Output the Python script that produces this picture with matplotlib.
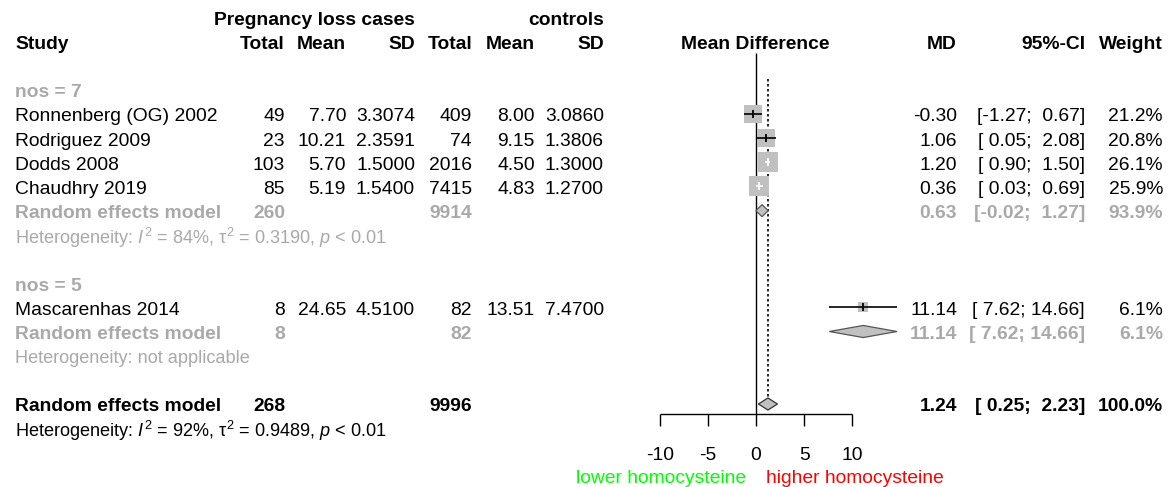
import numpy as np
import matplotlib
matplotlib.use("Agg")
import matplotlib.pyplot as plt
from matplotlib.patches import Polygon

plt.rcParams["font.family"] = "Liberation Sans"
plt.rcParams["mathtext.fontset"] = "custom"
plt.rcParams["mathtext.rm"] = "Liberation Sans"
plt.rcParams["mathtext.it"] = "Liberation Sans:italic"

# study level data
studies = ["Ronnenberg (OG) 2002", "Rodriguez 2009", "Dodds 2008", "Chaudhry 2019", "Mascarenhas 2014"]
study_group = [0, 0, 0, 0, 1]
n_case = [49, 23, 103, 85, 8]
mean_case = [7.70, 10.21, 5.70, 5.19, 24.65]
sd_case = [3.3074, 2.3591, 1.5000, 1.5400, 4.5100]
n_ctrl = [409, 74, 2016, 7415, 82]
mean_ctrl = [8.00, 9.15, 4.50, 4.83, 13.51]
sd_ctrl = [3.0860, 1.3806, 1.3000, 1.2700, 7.4700]
md = [-0.30, 1.06, 1.20, 0.36, 11.14]
ci_lo = [-1.27, 0.05, 0.90, 0.03, 7.62]
ci_hi = [0.67, 2.08, 1.50, 0.69, 14.66]
weight = [21.2, 20.8, 26.1, 25.9, 6.1]

# subgroup summaries
sub_labels = ["nos = 7", "nos = 5"]
sub_n_case = [260, 8]
sub_n_ctrl = [9914, 82]
sub_md = [0.63, 11.14]
sub_lo = [-0.02, 7.62]
sub_hi = [1.27, 14.66]
sub_weight = [93.9, 6.1]
sub_het = [r"Heterogeneity: $I^2$ = 84%, τ$^2$ = 0.3190, $p$ < 0.01",
           "Heterogeneity: not applicable"]

# overall random effects
tot_n_case = 268
tot_n_ctrl = 9996
tot_md = 1.24
tot_lo = 0.25
tot_hi = 2.23
tot_weight = 100.0
tot_het = r"Heterogeneity: $I^2$ = 92%, τ$^2$ = 0.9489, $p$ < 0.01"

axis_ticks = [-10, -5, 0, 5, 10]
label_left = "lower homocysteine"
label_right = "higher homocysteine"

GRAY = "#a9a9a9"
BOX = "#c0c0c0"
FS = 13.9
FS_SMALL = 13.1

W, H = 1169, 487
ROW0, ROWH = 17.3, 24.17          # pixel y of row 0 and row height
PX_ZERO, PX_UNIT = 756.0, 9.62    # pixel x of MD = 0 and pixels per MD unit
TXT_DY = 0.12                     # nudge text down onto the row centre

fig = plt.figure(figsize=(W / 100, H / 100), dpi=100)
ylim = ((H - ROW0) / ROWH, -ROW0 / ROWH)

ax_t = fig.add_axes([0, 0, 1, 1])
ax_t.set_xlim(0, W)
ax_t.set_ylim(*ylim)
ax_t.axis("off")

ax_f = fig.add_axes([0, 0, 1, 1], sharey=ax_t)
ax_f.set_xlim(-PX_ZERO / PX_UNIT, (W - PX_ZERO) / PX_UNIT)
ax_f.axis("off")
ax_f.patch.set_alpha(0)

# column right edges in pixels
X_STUDY = 15
X_NC, X_MC, X_SC = 285, 346, 415
X_NT, X_MT, X_ST = 472, 535, 604
X_MD, X_CI, X_W = 957, 1085, 1163


def txt(x, r, s, ha="right", color="black", bold=False, size=FS):
    ax_t.text(x, r + TXT_DY, s, ha=ha, va="center", color=color, fontsize=size,
              fontweight="bold" if bold else "normal")


def fmt_ci(lo, hi):
    return f"[{lo:5.2f}; {hi:5.2f}]"


def diamond(m, lo, hi, r, face, edge):
    h = 0.25
    ax_f.add_patch(Polygon([(lo, r), (m, r - h), (hi, r), (m, r + h)], closed=True,
                           facecolor=face, edgecolor=edge, lw=0.9, zorder=4))


# headers
txt(X_SC, 0, "Pregnancy loss cases", bold=True)
txt(X_ST, 0, "controls", bold=True)
txt(X_STUDY, 1, "Study", ha="left", bold=True)
for x, s in [(X_NC, "Total"), (X_MC, "Mean"), (X_SC, "SD"), (X_NT, "Total"),
             (X_MT, "Mean"), (X_ST, "SD"), (X_MD, "MD"), (X_CI, "95%-CI"), (X_W, "Weight")]:
    txt(x, 1, s, bold=True)
txt(PX_ZERO - 1, 1, "Mean Difference", ha="center", bold=True)

# reference lines
ax_f.vlines(0, 1.48, 16.41, color="black", lw=1.0, zorder=1)
ax_f.vlines(tot_md, 2.55, 15.7, color="black", lw=1.2, linestyles=(0, (1.5, 1.5)), zorder=1)

row = 3
for g in range(len(sub_labels)):
    txt(X_STUDY, row, sub_labels[g], ha="left", color=GRAY, bold=True)
    row += 1
    for i in [k for k, sg in enumerate(study_group) if sg == g]:
        txt(X_STUDY, row, studies[i], ha="left")
        txt(X_NC, row, f"{n_case[i]}")
        txt(X_MC, row, f"{mean_case[i]:.2f}")
        txt(X_SC, row, f"{sd_case[i]:.4f}")
        txt(X_NT, row, f"{n_ctrl[i]}")
        txt(X_MT, row, f"{mean_ctrl[i]:.2f}")
        txt(X_ST, row, f"{sd_ctrl[i]:.4f}")
        txt(X_MD, row, f"{md[i]:.2f}")
        txt(X_CI, row, fmt_ci(ci_lo[i], ci_hi[i]))
        txt(X_W, row, f"{weight[i]:.1f}%")

        side_px = 3.915 * np.sqrt(weight[i])
        ax_f.scatter([md[i]], [row], marker="s", s=(side_px * 0.72) ** 2,
                     color=BOX, linewidths=0, zorder=2)
        inside = (ci_hi[i] - ci_lo[i]) * PX_UNIT < side_px
        lc = "white" if inside else "black"
        ax_f.hlines(row, ci_lo[i], ci_hi[i], color=lc, lw=1.2, zorder=3)
        ax_f.scatter([md[i]], [row], marker="|", s=30, color=lc, linewidths=1.3, zorder=3)
        row += 1

    txt(X_STUDY, row, "Random effects model", ha="left", color=GRAY, bold=True)
    txt(X_NC, row, f"{sub_n_case[g]}", color=GRAY, bold=True)
    txt(X_NT, row, f"{sub_n_ctrl[g]}", color=GRAY, bold=True)
    txt(X_MD, row, f"{sub_md[g]:.2f}", color=GRAY, bold=True)
    txt(X_CI, row, fmt_ci(sub_lo[g], sub_hi[g]), color=GRAY, bold=True)
    txt(X_W, row, f"{sub_weight[g]:.1f}%", color=GRAY, bold=True)
    diamond(sub_md[g], sub_lo[g], sub_hi[g], row, BOX, "#555555")
    row += 1
    txt(X_STUDY, row, sub_het[g], ha="left", color=GRAY, size=FS_SMALL)
    row += 2

# overall pooled estimate
row = 16
txt(X_STUDY, row, "Random effects model", ha="left", bold=True)
txt(X_NC, row, f"{tot_n_case}", bold=True)
txt(X_NT, row, f"{tot_n_ctrl}", bold=True)
txt(X_MD, row, f"{tot_md:.2f}", bold=True)
txt(X_CI, row, fmt_ci(tot_lo, tot_hi), bold=True)
txt(X_W, row, f"{tot_weight:.1f}%", bold=True)
diamond(tot_md, tot_lo, tot_hi, row, BOX, "#333333")
txt(X_STUDY, row + 1, tot_het, ha="left", size=FS_SMALL)

# x axis of the forest panel
axis_r = 16.41
ax_f.hlines(axis_r, axis_ticks[0], axis_ticks[-1], color="black", lw=1.0)
ax_f.vlines(axis_ticks, axis_r, axis_r + 0.5, color="black", lw=1.0)
for t in axis_ticks:
    ax_f.text(t, 18 + TXT_DY, f"{t}", ha="center", va="center", fontsize=FS)
ax_f.annotate(label_left, (0, 18.95 + TXT_DY), xytext=(-7, 0), textcoords="offset points",
              ha="right", va="center", color="#00ff00", fontsize=FS)
ax_f.annotate(label_right, (0, 18.95 + TXT_DY), xytext=(7, 0), textcoords="offset points",
              ha="left", va="center", color="#ff0000", fontsize=FS)

fig.savefig("out.png", dpi=100)
